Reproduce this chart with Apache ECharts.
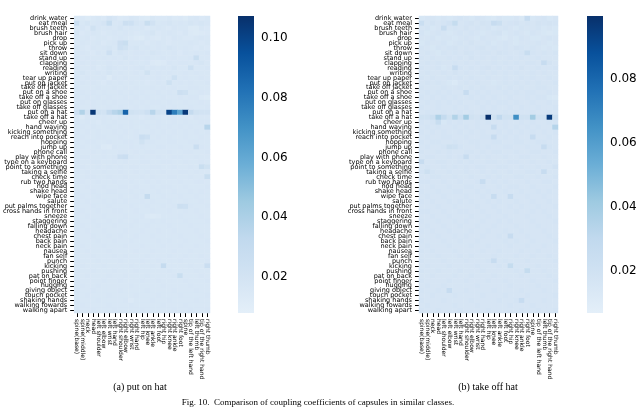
<!DOCTYPE html>
<html><head><meta charset="utf-8">
<script src="https://cdn.jsdelivr.net/npm/echarts@6/dist/echarts.min.js"></script>
<style>html,body{margin:0;padding:0;background:#fff}#c{width:640px;height:409px}</style>
</head><body><div id="c"></div>
<script>
const classes = ["drink water","eat meal","brush teeth","brush hair","drop","pick up","throw","sit down","stand up","clapping","reading","writing","tear up paper","put on jacket","take off jacket","put on a shoe","take off a shoe","put on glasses","take off glasses","put on a hat","take off a hat","cheer up","hand waving","kicking something","reach into pocket","hopping","jump up","phone call","play with phone","type on a keyboard","point to something","taking a selfie","check time","rub two hands","nod head","shake head","wipe face","salute","put palms together","cross hands in front","sneeze","staggering","falling down","headache","chest pain","back pain","neck pain","nausea","fan self","punch","kicking","pushing","pat on back","point finger","hugging","giving object","touch pocket","shaking hands","walking fowards","walking apart"];
const joints = ["spine(base)","spine(middle)","neck","head","left shoulder","left elbow","left wrist","left hand","right shoulder","right elbow","right wrist","right hand","left hip","left knee","left ankle","left foot","right hip","right knee","right ankle","right foot","spine","tip of the left hand","left thumb","tip of the right hand","right thumb"];

// coupling coefficients x 1000, one row per class, one column per joint
const putOnHat = [
[14,15,13,15,16,15,19,17,14,15,17,16,14,13,16,15,15,16,14,15,13,16,17,15,16],
[26,16,18,16,17,19,28,16,17,25,24,18,17,27,21,16,17,18,16,17,16,18,17,18,17],
[16,17,15,22,17,16,17,16,18,16,17,16,17,15,16,17,16,15,17,16,16,13,13,16,15],
[18,15,16,17,16,15,16,17,16,17,16,15,16,17,18,15,16,17,16,15,17,14,13,14,15],
[16,16,17,15,16,16,15,16,17,16,15,13,13,16,15,14,16,15,17,16,15,15,16,17,16],
[15,17,16,16,17,15,16,17,25,27,16,16,17,15,16,17,16,15,16,16,16,17,16,15,16],
[17,16,15,17,16,17,18,16,24,22,17,18,16,17,16,17,16,18,17,16,17,16,15,16,15],
[16,17,16,15,17,16,24,16,18,17,16,17,17,16,18,17,16,16,17,15,17,16,17,16,17],
[17,16,17,16,16,17,16,17,16,18,16,17,16,17,16,16,17,16,17,16,16,17,27,16,16],
[16,17,16,17,16,16,17,16,17,16,17,16,16,17,14,13,14,17,16,17,17,16,17,18,16],
[17,16,16,17,15,16,18,17,16,17,16,17,18,16,17,16,17,16,18,16,16,24,16,16,17],
[16,18,16,16,17,16,18,16,17,16,16,17,16,22,16,17,16,17,16,16,17,16,17,16,16],
[17,16,17,16,16,17,13,17,16,17,16,16,17,16,16,17,16,16,23,16,17,16,16,17,16],
[16,17,16,17,16,15,17,16,17,16,17,16,16,15,16,17,16,23,16,17,16,17,16,16,17],
[17,16,16,16,17,16,16,17,16,17,16,17,16,16,17,16,17,16,17,16,16,17,17,16,16],
[16,17,16,17,16,17,16,16,17,16,17,16,17,16,16,17,16,17,16,25,23,16,16,17,16],
[17,16,17,16,17,16,17,16,16,17,16,17,16,17,16,16,17,16,16,17,16,17,17,14,13],
[16,17,16,17,16,17,16,17,16,16,17,16,17,16,17,17,16,17,16,16,17,16,16,17,16],
[17,16,16,17,16,16,17,16,17,16,16,17,16,17,16,16,17,16,17,16,16,17,16,16,17],
[24,38,20,105,22,20,30,36,40,88,22,20,20,24,36,22,20,100,78,62,104,30,22,20,20],
[16,13,16,15,16,17,16,15,16,17,16,16,15,16,17,16,15,16,17,16,16,15,17,16,16],
[17,16,17,16,15,17,16,17,16,16,17,16,17,16,16,17,16,16,17,16,17,16,16,17,17],
[16,17,16,17,16,16,17,16,17,16,17,16,16,17,16,17,16,17,16,17,16,17,16,16,36],
[17,16,17,16,17,16,16,17,16,17,16,17,16,16,17,16,17,16,17,16,17,16,17,16,17],
[16,17,16,16,17,17,16,16,17,16,16,17,26,24,16,17,16,17,16,16,17,16,16,17,16],
[17,16,17,17,16,16,17,16,16,17,17,16,22,17,17,16,16,17,17,16,16,17,17,16,16],
[16,17,16,16,17,14,13,17,16,16,17,16,17,16,16,17,17,16,16,17,16,16,26,17,16],
[17,16,16,17,16,17,16,16,17,17,16,17,16,17,17,16,16,17,16,16,17,17,16,16,17],
[16,17,17,16,16,17,16,17,25,26,17,16,17,16,16,17,16,16,17,17,16,16,17,16,16],
[17,16,16,17,17,16,16,17,16,17,16,16,17,17,16,16,17,17,16,16,17,16,16,17,16],
[16,17,16,16,17,16,17,16,17,16,17,17,16,16,17,17,16,16,17,16,16,17,16,27,22],
[17,16,17,16,16,17,16,16,17,16,16,17,16,17,16,16,17,16,16,17,17,16,17,16,16],
[16,16,17,17,16,16,17,16,16,17,16,16,17,16,17,16,16,17,17,16,16,17,16,16,27],
[17,17,16,16,17,16,16,17,16,16,17,16,16,17,16,17,16,16,16,17,16,16,17,17,16],
[16,16,17,16,16,17,16,16,17,17,16,17,16,16,17,16,17,17,16,16,17,16,16,16,17],
[17,16,16,17,16,16,17,17,16,16,17,16,17,16,16,17,16,16,17,16,16,17,16,17,16],
[16,17,16,16,17,16,16,16,17,16,16,17,16,30,16,16,17,16,16,17,16,16,17,16,16],
[17,16,17,16,16,17,16,17,16,17,16,16,17,16,17,16,16,17,16,16,17,16,16,17,16],
[16,16,16,17,16,16,17,16,16,16,17,16,16,17,16,16,17,16,17,25,24,17,16,16,17],
[17,17,16,16,17,16,16,17,17,16,16,17,16,16,17,16,16,17,16,16,17,16,17,16,16],
[16,16,17,16,16,17,16,16,16,17,16,16,17,14,13,14,16,16,16,17,16,16,16,17,16],
[17,16,16,17,16,16,17,16,17,16,16,17,16,16,17,16,17,16,16,16,17,16,16,16,17],
[16,17,16,16,17,16,16,17,16,16,17,16,16,17,16,16,16,17,16,16,16,17,16,16,16],
[17,16,17,16,16,17,16,16,16,17,16,16,17,16,16,17,16,16,17,16,16,16,17,16,16],
[16,16,16,17,16,16,17,16,17,16,16,17,16,16,17,16,16,16,16,17,16,16,16,17,16],
[17,16,16,16,17,16,16,17,16,16,17,16,16,16,16,17,16,17,16,16,17,16,16,16,17],
[16,17,16,16,16,17,16,16,16,17,16,16,17,16,16,16,17,16,16,17,16,16,17,16,16],
[17,16,17,16,16,16,17,16,16,16,16,17,16,16,17,16,16,16,17,16,16,17,16,16,16],
[16,16,16,17,16,16,16,17,16,17,16,16,16,17,16,16,16,17,16,16,17,16,16,17,16],
[17,16,16,16,17,16,16,16,17,16,16,16,17,16,16,17,16,16,16,17,16,16,16,16,17],
[16,17,16,16,16,17,16,16,16,16,17,16,16,16,17,16,30,16,16,16,16,17,16,16,26],
[17,16,16,17,16,16,16,17,16,16,16,17,16,16,16,16,16,17,16,16,16,16,17,16,16],
[16,16,17,16,16,16,17,16,16,17,16,16,16,17,16,16,16,16,17,27,16,16,16,17,16],
[17,16,16,16,16,17,16,16,17,16,16,16,17,16,16,17,16,16,16,16,17,16,16,16,17],
[16,17,16,16,17,16,16,16,16,16,17,16,16,16,16,16,17,16,16,16,16,17,16,16,16],
[17,16,16,17,16,16,16,16,17,16,16,16,16,17,16,16,16,16,17,16,16,16,17,16,16],
[16,16,17,16,16,16,17,16,16,16,16,17,16,16,16,17,16,16,16,17,16,16,16,16,17],
[17,16,16,16,17,16,16,16,16,17,14,16,16,16,17,16,16,17,16,16,16,16,17,16,16],
[16,17,16,16,16,16,17,16,16,16,17,16,16,16,16,16,17,16,16,16,17,16,16,16,16],
[17,16,16,17,16,16,16,17,16,16,16,16,17,16,16,16,16,16,17,16,16,17,16,16,17]
];
const takeOffHat = [
[15,16,16,15,16,15,16,17,16,15,17,16,15,14,16,15,15,16,14,26,15,16,17,15,16],
[24,16,18,16,17,19,27,16,17,18,16,18,17,26,23,16,17,18,16,17,16,18,17,18,17],
[16,17,15,16,25,16,17,16,18,16,17,16,17,15,16,17,16,15,17,16,16,17,15,16,15],
[17,15,16,17,16,15,16,17,16,17,16,15,16,17,18,15,16,17,16,15,17,16,15,14,15],
[16,16,17,15,16,16,15,16,17,16,15,17,16,16,15,14,16,15,17,16,15,15,16,17,16],
[15,17,16,16,17,15,16,17,16,18,16,16,17,15,16,17,16,15,16,16,16,17,16,15,16],
[17,16,15,17,16,17,18,16,17,16,17,18,16,17,16,17,16,18,17,16,17,16,15,16,15],
[16,17,16,15,17,16,17,16,18,17,16,17,17,16,18,17,16,16,17,25,17,16,17,16,17],
[17,16,17,16,16,17,16,17,16,18,16,17,16,17,16,16,17,16,17,16,16,17,16,16,16],
[16,17,16,17,16,16,17,16,17,16,17,16,16,17,16,17,16,17,16,17,17,16,26,18,16],
[17,16,16,17,15,16,26,17,16,17,16,17,18,16,17,16,17,16,18,16,16,17,16,16,17],
[16,17,16,16,17,16,18,16,17,16,16,17,16,17,16,17,16,17,16,16,17,16,17,16,16],
[17,16,17,16,16,17,16,17,16,17,16,16,17,16,16,17,16,16,17,16,17,16,16,17,16],
[16,17,16,17,16,15,13,16,17,16,17,16,16,15,16,17,16,17,16,17,16,17,16,16,17],
[17,16,16,16,17,16,16,17,16,17,16,17,16,16,17,16,17,16,17,16,16,17,17,16,16],
[16,17,16,17,16,17,16,16,26,16,17,16,17,16,16,17,16,17,16,17,17,16,16,17,16],
[17,16,17,16,17,16,17,16,16,17,16,17,16,17,16,16,17,16,16,17,16,17,17,15,14],
[16,17,16,17,16,17,16,17,16,16,17,16,17,16,17,17,16,17,16,16,17,16,16,17,16],
[17,16,16,17,16,16,17,16,17,16,16,17,16,17,16,16,17,16,17,16,16,17,16,16,17],
[16,17,16,16,17,16,16,17,16,17,16,16,17,16,16,17,16,17,16,16,17,16,16,17,16],
[20,20,22,36,28,20,35,22,40,20,18,22,100,20,30,20,20,66,20,20,40,20,20,96,22],
[17,16,17,25,15,17,16,17,16,16,17,16,17,16,16,17,16,16,17,16,17,16,16,17,17],
[16,17,16,17,16,16,17,16,17,16,17,16,16,26,16,17,16,17,16,17,16,17,16,16,34],
[17,16,17,16,17,16,16,17,16,17,16,17,16,16,17,16,17,16,17,16,17,16,17,16,17],
[16,17,16,16,17,17,16,16,17,16,16,17,17,26,16,17,16,17,16,16,26,16,16,17,16],
[17,16,17,17,16,16,17,16,16,17,17,16,16,17,17,16,16,17,17,16,16,17,17,16,16],
[16,17,16,16,17,22,21,17,16,16,17,16,17,16,16,17,17,16,16,17,16,16,26,17,16],
[17,16,16,17,16,17,16,16,17,17,16,17,16,17,17,16,16,17,16,16,17,17,16,16,17],
[16,17,17,16,16,17,16,17,26,16,17,16,17,16,16,17,16,16,17,17,16,16,17,16,16],
[26,16,16,17,17,16,16,17,16,17,16,16,17,17,16,16,17,17,16,16,17,16,16,17,16],
[16,17,16,16,17,16,17,16,17,16,17,17,16,16,17,17,16,16,17,16,16,17,16,16,19],
[17,22,17,16,16,17,16,16,17,16,16,17,16,17,16,16,17,16,16,17,17,16,26,16,16],
[16,16,17,17,16,16,17,16,16,17,16,16,17,16,17,16,16,17,17,16,16,17,16,16,17],
[17,17,16,16,17,16,16,17,16,16,17,26,16,17,16,17,16,16,16,17,16,16,17,17,16],
[16,16,17,16,16,17,16,16,17,17,16,17,16,16,17,16,17,17,16,16,17,16,16,16,17],
[17,16,16,17,16,16,17,17,16,16,17,16,17,16,16,17,16,16,17,16,16,17,16,17,16],
[16,17,16,16,17,16,16,16,17,16,16,17,16,26,16,16,26,16,16,17,16,16,17,16,16],
[17,16,17,16,16,17,16,17,16,17,16,16,17,16,17,16,16,17,16,16,17,16,16,17,16],
[16,16,16,17,16,16,17,16,16,16,17,16,16,17,16,16,17,16,17,16,16,17,16,16,17],
[17,17,16,16,17,16,16,17,17,16,16,17,16,16,17,16,16,17,16,16,17,16,17,16,16],
[16,16,17,16,16,17,16,16,16,17,16,16,17,16,16,17,16,16,16,17,16,16,16,17,16],
[17,16,16,17,16,16,17,16,17,16,16,17,16,16,17,16,17,16,16,16,17,16,16,16,17],
[16,17,16,16,17,16,16,17,16,16,17,16,16,17,16,16,16,17,16,16,16,17,16,16,16],
[17,16,17,16,16,17,16,16,16,17,16,16,17,16,16,17,16,16,17,16,16,16,17,16,16],
[16,16,16,17,16,16,17,16,17,16,16,17,16,16,17,16,26,16,16,17,16,16,16,17,16],
[17,16,16,16,17,16,16,17,16,16,17,16,16,16,16,17,16,17,16,16,17,16,16,16,17],
[16,17,16,16,16,17,16,16,16,17,16,16,17,16,16,16,17,16,16,17,16,16,17,16,16],
[17,16,17,16,16,16,17,16,16,16,16,17,16,16,17,16,16,16,17,16,16,17,16,16,16],
[16,16,16,17,16,16,16,17,16,17,16,16,16,17,16,16,16,17,16,16,17,16,16,17,16],
[17,16,16,16,17,16,16,16,17,16,16,16,17,26,16,17,16,16,16,17,16,16,16,16,17],
[16,17,16,16,16,17,16,16,16,16,17,16,16,16,17,16,27,16,16,16,16,17,16,16,16],
[17,16,16,17,16,16,16,17,16,16,16,17,16,16,16,16,16,17,16,27,16,16,17,16,16],
[16,16,17,16,16,16,17,16,16,17,16,16,16,17,16,16,16,16,17,16,16,16,16,17,16],
[17,16,16,16,16,17,16,16,17,16,16,16,17,16,16,17,16,16,16,16,17,16,16,16,17],
[16,17,16,16,17,16,16,16,16,16,17,16,16,16,16,16,17,16,16,16,16,17,16,16,16],
[17,16,16,17,16,26,16,16,17,16,16,16,16,17,16,16,16,16,17,16,16,16,17,16,16],
[16,16,17,16,16,16,17,16,16,16,16,17,16,16,16,17,16,16,16,17,16,16,16,16,17],
[17,16,16,16,17,16,16,16,16,17,16,16,16,16,17,16,16,17,26,16,16,16,17,16,16],
[16,17,16,16,16,16,17,16,16,16,17,16,16,16,16,16,17,16,16,16,17,16,16,16,16],
[17,16,16,17,16,16,16,17,16,16,16,16,17,16,16,16,16,16,17,16,16,17,16,16,17]
];
const rangeA = [0.0078, 0.1075];
const rangeB = [0.0068, 0.0997];
const ticksA = [0.02, 0.04, 0.06, 0.08, 0.10];
const ticksB = [0.02, 0.04, 0.06, 0.08];
const captions = ["(a) put on hat", "(b) take off hat", "Fig. 10.  Comparison of coupling coefficients of capsules in similar classes."];

const blues = ['#e4eff9','#d2e3f3','#c1d9ee','#9ecae1','#6baed6','#4292c6','#2171b5','#08519c','#08306b'];
function toData(m){const d=[];m.forEach((row,i)=>row.forEach((v,j)=>d.push([j,i,v/1000])));return d;}

const FONT='DejaVu Sans';
function hmX(gi){return {type:'category',gridIndex:gi,data:joints,axisLine:{show:false},
  axisTick:{show:true,alignWithLabel:true,interval:0,length:4,lineStyle:{color:'#000',width:1}},
  axisLabel:{interval:0,rotate:-90,fontSize:6,fontFamily:FONT,color:'#000',margin:6},splitLine:{show:false}};}
function hmY(gi){return {type:'category',gridIndex:gi,data:classes,inverse:true,axisLine:{show:false},
  axisTick:{show:true,alignWithLabel:true,interval:0,length:4,lineStyle:{color:'#000',width:1}},
  axisLabel:{interval:0,fontSize:6.5,fontFamily:FONT,color:'#000',margin:7,lineHeight:7},splitLine:{show:false}};}
function cbX(gi){return {type:'value',gridIndex:gi,show:false,min:0,max:1};}
function cbY(gi,r,t){return {type:'value',gridIndex:gi,position:'right',min:r[0],max:r[1],axisLine:{show:false},splitLine:{show:false},
  axisTick:{show:true,length:4,customValues:t,lineStyle:{color:'#000',width:1}},
  axisLabel:{customValues:t,fontSize:12,fontFamily:FONT,color:'#000',margin:7,formatter:v=>v.toFixed(2)}};}
function colorbar(gi){
  const stops = blues.map((c,i)=>({offset:1-i/(blues.length-1),color:c}));
  return {type:'custom',xAxisIndex:gi,yAxisIndex:gi,silent:true,clip:false,
    data:[[0, gi===2?rangeA[0]:rangeB[0], gi===2?rangeA[1]:rangeB[1]]],
    encode:{x:0,y:[1,2]},
    renderItem:(p,api)=>{const a=api.coord([0,api.value(1)]);const b=api.coord([1,api.value(2)]);
      return {type:'rect',shape:{x:a[0],y:b[1],width:b[0]-a[0],height:a[1]-b[1]},
        style:{fill:new echarts.graphic.LinearGradient(0,0,0,1,stops.slice().sort((s,t)=>s.offset-t.offset))}};}};
}

const chart = echarts.init(document.getElementById('c'), null, {renderer:'canvas'});
chart.setOption({
  animation:false,
  backgroundColor:'#fff',
  grid:[
    {left:71,top:16,width:139,height:297},
    {left:419,top:16,width:139,height:297},
    {left:238,top:16,width:16,height:297},
    {left:587,top:16,width:16,height:297}
  ],
  xAxis:[hmX(0),hmX(1),cbX(2),cbX(3)],
  yAxis:[hmY(0),hmY(1),cbY(2,rangeA,ticksA),cbY(3,rangeB,ticksB)],
  visualMap:[
    {type:'continuous',show:false,seriesIndex:0,min:rangeA[0],max:rangeA[1],inRange:{color:blues}},
    {type:'continuous',show:false,seriesIndex:1,min:rangeB[0],max:rangeB[1],inRange:{color:blues}}
  ],
  title:[
    {text:captions[0],left:140,top:382,padding:0,textAlign:'center',textStyle:{fontFamily:'Liberation Serif',fontSize:10,fontWeight:'normal',color:'#000'}},
    {text:captions[1],left:488,top:382,padding:0,textAlign:'center',textStyle:{fontFamily:'Liberation Serif',fontSize:10,fontWeight:'normal',color:'#000'}},
    {text:captions[2],left:318,top:398,padding:0,textAlign:'center',textStyle:{fontFamily:'Liberation Serif',fontSize:9,fontWeight:'normal',color:'#000'}}
  ],
  series:[
    {type:'heatmap',xAxisIndex:0,yAxisIndex:0,data:toData(putOnHat),itemStyle:{borderWidth:0}},
    {type:'heatmap',xAxisIndex:1,yAxisIndex:1,data:toData(takeOffHat),itemStyle:{borderWidth:0}},
    colorbar(2), colorbar(3)
  ]
});
</script></body></html>
